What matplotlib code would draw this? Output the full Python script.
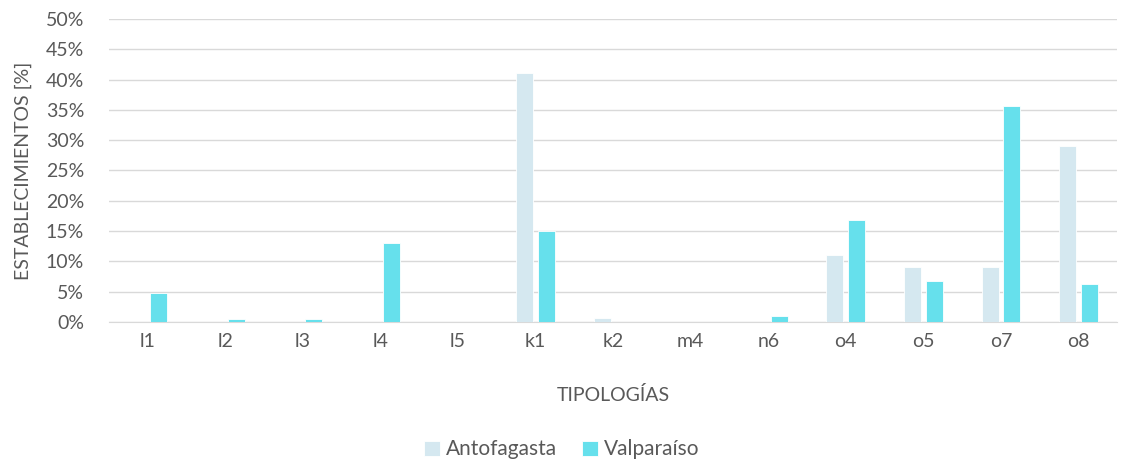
import numpy as np
import matplotlib.pyplot as plt
from matplotlib.ticker import PercentFormatter

plt.rcParams['font.family'] = ['Lato', 'DejaVu Sans']

# datos
tipologias = ['l1', 'l2', 'l3', 'l4', 'l5', 'k1', 'k2', 'm4', 'n6', 'o4', 'o5', 'o7', 'o8']
antofagasta = [0, 0, 0, 0, 0, 41.0, 0.7, 0, 0, 11.1, 9.1, 9.1, 29.1]
valparaiso = [4.8, 0.5, 0.5, 13.0, 0, 15.0, 0, 0, 1.0, 16.8, 6.8, 35.6, 6.2]

c_ant = '#D5E8F0'
c_val = '#66E0EC'
gris = '#595959'
fs = 14

fig = plt.figure(figsize=(11.24, 4.62), dpi=100)
ax = fig.add_axes([0.097, 0.303, 0.897, 0.656])

x = np.arange(len(tipologias))
w = 0.22
ax.bar(x - 0.14, antofagasta, w, color=c_ant, edgecolor='white', linewidth=0.6, label='Antofagasta', zorder=3)
ax.bar(x + 0.14, valparaiso, w, color=c_val, edgecolor='white', linewidth=0.6, label='Valparaíso', zorder=3)

ax.set_xlim(-0.5, len(tipologias) - 0.5)
ax.set_ylim(0, 50)
ax.set_yticks(np.arange(0, 51, 5))
ax.yaxis.set_major_formatter(PercentFormatter(decimals=0))
ax.set_xticks(x)
ax.set_xticklabels(tipologias)

ax.grid(axis='y', color='#D9D9D9', linewidth=1, zorder=0)
for s in ['top', 'right', 'left']:
    ax.spines[s].set_visible(False)
ax.spines['bottom'].set_color('#D9D9D9')
ax.tick_params(length=0, colors=gris, labelsize=fs)
ax.tick_params(axis='y', pad=18)
ax.tick_params(axis='x', pad=8)

ax.set_xlabel('TIPOLOGÍAS', color=gris, fontsize=fs, labelpad=26)
ax.set_ylabel('ESTABLECIMIENTOS [%]', color=gris, fontsize=fs, labelpad=10)

leg = fig.legend(loc='lower center', bbox_to_anchor=(0.5, -0.035), ncol=2, frameon=False,
                 fontsize=15, handlelength=0.75, handleheight=0.75, handletextpad=0.3,
                 columnspacing=1.2)
for t in leg.get_texts():
    t.set_color(gris)

plt.savefig('out.png', dpi=100)
